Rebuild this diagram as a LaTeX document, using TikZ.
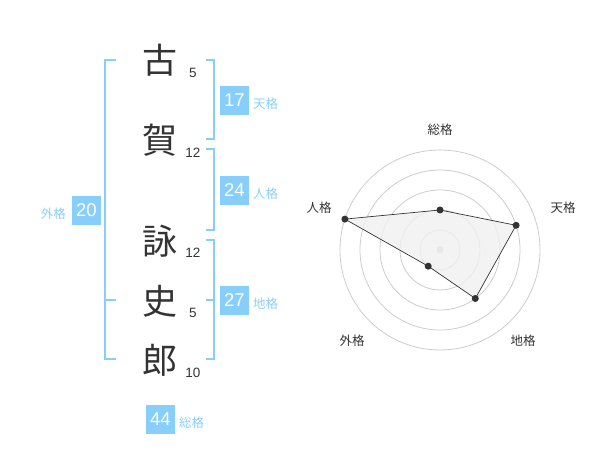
\documentclass[tikz,border=0pt]{standalone}
\usepackage{fontspec}
\setmainfont{Liberation Sans}
\newfontfamily\cjk{Noto Sans CJK JP}
\definecolor{sky}{HTML}{87CEFA}
\definecolor{skytxt}{HTML}{8CCFF5}
\definecolor{ink}{HTML}{333333}
\definecolor{ring}{HTML}{CCCCCC}
\begin{document}
\begin{tikzpicture}[x=1pt,y=-1pt,
  kanji/.style={font=\cjk\fontsize{35}{35}\selectfont, text=ink, inner sep=0pt},
  stroke/.style={font=\fontsize{13.5}{14}\selectfont, text=ink, inner sep=0pt},
  numbox/.style={fill=sky, text=white, minimum width=28.7pt, minimum height=28.7pt, inner sep=0pt, font=\fontsize{18.5}{19}\selectfont},
  kaku/.style={font=\cjk\fontsize{12.5}{13}\selectfont, text=skytxt, inner sep=0pt},
  bracket/.style={draw=sky, line width=2pt},
  radarlbl/.style={font=\cjk\fontsize{12.5}{13}\selectfont, text=ink, inner sep=0pt},
  ringc/.style={draw=ring, line width=0.8pt},
  dot/.style={circle, fill=ink, inner sep=0pt, minimum size=7pt},
]
\useasboundingbox (0,0) rectangle (600,470);

% kanji
\node[kanji] (k1) at (160,60) {古};
\node[kanji] (k2) at (160,140) {賀};
\node[kanji] (k3) at (160,241) {詠};
\node[kanji] (k4) at (160,301) {史};
\node[kanji] (k5) at (160,360) {郎};
% strokes
\node[stroke] (s1) at (193,73) {5};
\node[stroke] (s2) at (193,153) {12};
\node[stroke] (s3) at (193,253) {12};
\node[stroke] (s4) at (193,313) {5};
\node[stroke] (s5) at (193,373) {10};

% brackets
\draw[bracket] (116,60) -- (104.7,60) -- (104.7,359.3) -- (116,359.3);
\draw[bracket] (104.7,300) -- (116,300);
\draw[bracket] (205.7,60) -- (214.3,60) -- (214.3,139.3) -- (205.7,139.3);
\draw[bracket] (205.7,149.3) -- (214.3,149.3) -- (214.3,230) -- (205.7,230);
\draw[bracket] (205.7,240) -- (214.3,240) -- (214.3,359.3) -- (205.7,359.3);
\draw[bracket] (214.3,300) -- (205.7,300);

% boxes
\node[numbox] (b1) at (234.3,100.3) {17};
\node[kaku, anchor=west] (l1) at (253,103.5) {天格};
\node[numbox] (b2) at (234.3,190.3) {24};
\node[kaku, anchor=west] (l2) at (253,193.5) {人格};
\node[numbox] (b3) at (234.3,300.3) {27};
\node[kaku, anchor=west] (l3) at (253,303.5) {地格};
\node[numbox] (b4) at (86.3,210.3) {20};
\node[kaku, anchor=east] (l4) at (66,213.5) {外格};
\node[numbox] (b5) at (160.3,419.3) {44};
\node[kaku, anchor=west] (l5) at (179,422.5) {総格};

% radar
\coordinate (c) at (440,250);
\foreach \r in {20,40,60,80,100} \draw[ringc] (c) circle[radius=\r];
\fill[ring] (c) circle[radius=3.5];
\coordinate (p1) at (440,210);
\coordinate (p2) at (516.1,225.3);
\coordinate (p3) at (475.3,298.5);
\coordinate (p4) at (428.2,266.2);
\coordinate (p5) at (344.9,219.1);
\filldraw[fill=black!6, fill opacity=0.8, draw=ink, line width=0.7pt] (p1) -- (p2) -- (p3) -- (p4) -- (p5) -- cycle;
\foreach \p in {p1,p2,p3,p4,p5} \node[dot] at (\p) {};
\node[radarlbl] (r1) at (440,130) {総格};
\node[radarlbl] (r2) at (563,208) {天格};
\node[radarlbl] (r3) at (523,341) {地格};
\node[radarlbl] (r4) at (352,341) {外格};
\node[radarlbl] (r5) at (319,208) {人格};
\end{tikzpicture}
\end{document}
